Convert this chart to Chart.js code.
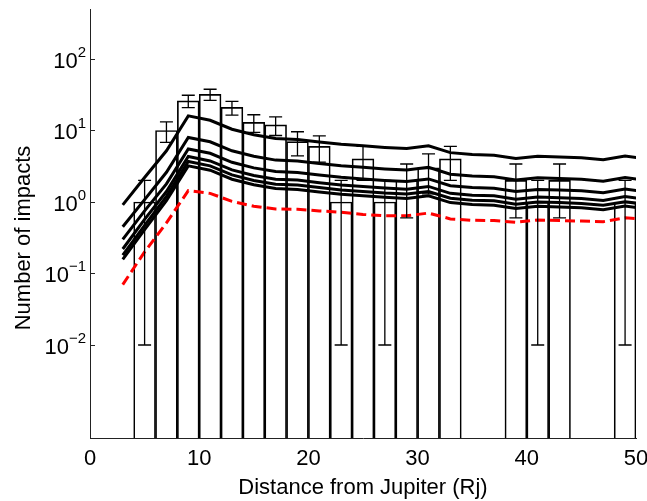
<!DOCTYPE html>
<html lang="en">
<head>
<meta charset="UTF-8">
<title>Number of impacts vs distance</title>
<script src="https://cdn.jsdelivr.net/npm/chart.js"></script>
<style>
  html, body { margin: 0; padding: 0; background: #fff; }
</style>
</head>
<body>
<canvas id="grafico" width="647" height="501"></canvas>
<script>
// observed histogram (2 Rj bins)
const binCenters = [5, 7, 9, 11, 13, 15, 17, 19, 21, 23, 25, 27, 29, 31, 33, 35, 37, 39, 41, 43, 45, 47, 49];
const counts     = [1, 10, 26, 32, 21, 13, 12, 7, 6, 1, 4, 1, 2, 3, 4, 0, 0, 2, 1, 2, 0, 0, 1];
const errHigh    = [2, 13.2, 31.1, 37.7, 25.6, 16.6, 15.5, 9.6, 8.4, 2, 6, 2, 3.4, 4.7, 6, null, null, 3.4, 2, 3.4, null, null, 2];
const errLow     = [0.01, 6.8, 20.9, 26.3, 16.4, 9.4, 8.5, 4.4, 3.6, 0.01, 2, 0.01, 0.6, 1.3, 2, null, null, 0.6, 0.01, 0.6, null, null, 0.01];

// model curves
const modelX = [3, 5, 7, 9, 11, 13, 15, 17, 19, 21, 23, 25, 27, 29, 31, 33, 35, 37, 39, 41, 43, 45, 47, 49, 51];
const model1 = [0.91, 2.2, 5.2, 16.0, 13.9, 10.4, 8.7, 7.7, 7.5, 6.9, 6.4, 6.1, 5.8, 5.6, 6.1, 4.9, 4.6, 4.5, 4.05, 4.35, 4.25, 4.15, 3.9, 4.4, 4.0];
const model2 = [0.45, 1.08, 2.6, 8.0, 6.95, 5.2, 4.35, 3.85, 3.75, 3.45, 3.2, 3.05, 2.9, 2.8, 3.05, 2.45, 2.3, 2.25, 2.03, 2.18, 2.13, 2.08, 1.95, 2.2, 2.0];
const model3 = [0.30, 0.75, 1.79, 5.52, 4.80, 3.59, 3.0, 2.66, 2.59, 2.38, 2.21, 2.10, 2.0, 1.93, 2.10, 1.69, 1.59, 1.55, 1.40, 1.50, 1.47, 1.43, 1.35, 1.52, 1.38];
const model4 = [0.22, 0.57, 1.40, 4.32, 3.75, 2.81, 2.35, 2.08, 2.03, 1.86, 1.73, 1.65, 1.57, 1.51, 1.65, 1.32, 1.24, 1.22, 1.09, 1.17, 1.15, 1.12, 1.05, 1.19, 1.08];
const model5 = [0.18, 0.47, 1.20, 3.68, 3.20, 2.39, 2.0, 1.77, 1.73, 1.59, 1.47, 1.40, 1.33, 1.29, 1.40, 1.13, 1.06, 1.04, 0.93, 1.0, 0.98, 0.95, 0.90, 1.01, 0.92];
const model6 = [0.157, 0.41, 1.04, 3.2, 2.78, 2.08, 1.74, 1.54, 1.5, 1.38, 1.28, 1.22, 1.16, 1.12, 1.22, 0.98, 0.92, 0.90, 0.81, 0.87, 0.85, 0.83, 0.78, 0.88, 0.80];
const modelRed = [0.07, 0.20, 0.51, 1.44, 1.32, 1.02, 0.87, 0.80, 0.79, 0.75, 0.72, 0.67, 0.64, 0.64, 0.70, 0.58, 0.555, 0.55, 0.52, 0.56, 0.55, 0.54, 0.53, 0.60, 0.57];

// axis ticks
const yTicks = [0.01, 0.1, 1, 10, 100];
const yExponents = ['\u22122', '\u22121', '0', '1', '2'];
const xTicks = [0, 10, 20, 30, 40, 50];

const FONT = '"Liberation Sans", Arial, sans-serif';

function puntos(xs, ys) {
  return xs.map((x, i) => ({ x: x, y: ys[i] }));
}

function curva(ys) {
  return {
    type: 'line',
    data: puntos(modelX, ys),
    borderColor: '#000',
    borderWidth: 3,
    pointRadius: 0,
    tension: 0,
    fill: false,
    clip: 0,
    order: 1
  };
}

// error bars + y tick marks/labels + axis titles
const extras = {
  id: 'extras',
  afterDatasetsDraw(chart) {
    const ctx = chart.ctx;
    const xs = chart.scales.x;
    const ys = chart.scales.y;
    ctx.save();
    ctx.strokeStyle = '#000';
    ctx.lineWidth = 1.3;
    binCenters.forEach((c, i) => {
      if (errHigh[i] == null) return;
      const px = xs.getPixelForValue(c);
      const yh = ys.getPixelForValue(errHigh[i]);
      const yl = ys.getPixelForValue(errLow[i]);
      ctx.beginPath();
      ctx.moveTo(px, yh); ctx.lineTo(px, yl);
      ctx.moveTo(px - 6.5, yh); ctx.lineTo(px + 6.5, yh);
      ctx.moveTo(px - 6.5, yl); ctx.lineTo(px + 6.5, yl);
      ctx.stroke();
    });
    ctx.restore();
  },
  afterDraw(chart) {
    const ctx = chart.ctx;
    const ys = chart.scales.y;
    const area = chart.chartArea;
    ctx.save();
    ctx.strokeStyle = '#222';
    ctx.fillStyle = '#000';
    ctx.lineWidth = 1;
    yTicks.forEach((v, i) => {
      const py = Math.round(ys.getPixelForValue(v)) + 0.5;
      ctx.beginPath();
      ctx.moveTo(area.left, py); ctx.lineTo(area.left + 5, py);
      ctx.stroke();
      ctx.font = '15px ' + FONT;
      const ew = ctx.measureText(yExponents[i]).width;
      ctx.textAlign = 'left';
      ctx.textBaseline = 'alphabetic';
      ctx.fillText(yExponents[i], 86 - ew, py - 3);
      ctx.font = '22px ' + FONT;
      ctx.textAlign = 'right';
      ctx.fillText('10', 86 - ew, py + 8);
    });
    ctx.font = '22px ' + FONT;
    ctx.textAlign = 'center';
    ctx.textBaseline = 'alphabetic';
    ctx.fillText('Distance from Jupiter (Rj)', (area.left + area.right) / 2, 494);
    ctx.translate(30, 238);
    ctx.rotate(-Math.PI / 2);
    ctx.fillText('Number of impacts', 0, 0);
    ctx.restore();
  }
};

const lienzo = document.getElementById('grafico');
const grafico = new Chart(lienzo, {
  type: 'bar',
  data: {
    datasets: [
      curva(model1),
      curva(model2),
      curva(model3),
      curva(model4),
      curva(model5),
      curva(model6),
      {
        type: 'line',
        data: puntos(modelX, modelRed),
        borderColor: '#ff0000',
        borderWidth: 3,
        borderDash: [10, 5],
        pointRadius: 0,
        tension: 0,
        fill: false,
        clip: 0,
        order: 0
      },
      {
        type: 'bar',
        data: binCenters.map((x, i) => ({ x: x, y: counts[i] > 0 ? counts[i] : null })),
        backgroundColor: 'rgba(0,0,0,0)',
        borderColor: '#000',
        borderWidth: 1,
        barPercentage: 1,
        categoryPercentage: 1,
        order: 5
      }
    ]
  },
  options: {
    responsive: false,
    animation: false,
    devicePixelRatio: 1,
    layout: { padding: { left: 0, right: 11, top: 9, bottom: 0 } },
    plugins: {
      legend: { display: false },
      tooltip: { enabled: false }
    },
    scales: {
      x: {
        type: 'linear',
        min: 0,
        max: 50,
        offset: false,
        grid: { display: false, drawTicks: false },
        border: { display: true, color: '#222', width: 1 },
        afterBuildTicks: (s) => { s.ticks = xTicks.map(v => ({ value: v })); },
        afterFit: (s) => { s.height = 63; s.paddingLeft = 0; s.paddingRight = 0; },
        ticks: {
          color: '#000',
          padding: 8,
          maxRotation: 0,
          font: { family: FONT, size: 22 }
        }
      },
      y: {
        type: 'logarithmic',
        min: 5e-4,
        max: 500,
        grid: { display: false, drawTicks: false },
        border: { display: true, color: '#222', width: 1 },
        afterBuildTicks: (s) => { s.ticks = yTicks.map(v => ({ value: v })); },
        afterFit: (s) => { s.width = 90; s.paddingTop = 0; s.paddingBottom = 0; },
        ticks: { display: false }
      }
    }
  },
  plugins: [extras]
});
</script>
</body>
</html>
